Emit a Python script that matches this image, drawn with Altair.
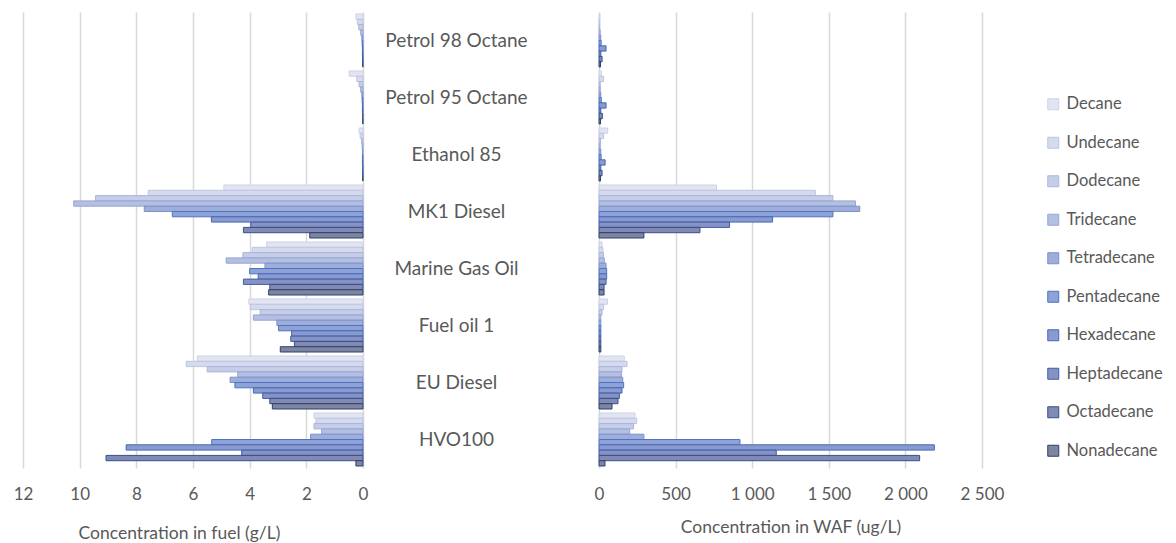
import altair as alt
import pandas as pd

fuels = ["Petrol 98 Octane", "Petrol 95 Octane", "Ethanol 85", "MK1 Diesel",
         "Marine Gas Oil", "Fuel oil 1", "EU Diesel", "HVO100"]
alkanes = ["Decane", "Undecane", "Dodecane", "Tridecane", "Tetradecane",
           "Pentadecane", "Hexadecane", "Heptadecane", "Octadecane", "Nonadecane"]

# Concentration in fuel (g/L), per fuel, Decane..Nonadecane
fuel_petrol98 = [0.25, 0.20, 0.15, 0.08, 0.04, 0.03, 0.02, 0.02, 0.01, 0.01]
fuel_petrol95 = [0.49, 0.22, 0.14, 0.08, 0.04, 0.03, 0.02, 0.02, 0.01, 0.01]
fuel_ethanol85 = [0.14, 0.10, 0.05, 0.03, 0.02, 0.02, 0.02, 0.01, 0.01, 0.01]
fuel_mk1 = [4.91, 7.58, 9.44, 10.21, 7.72, 6.73, 5.35, 3.96, 4.22, 1.88]
fuel_mgo = [3.40, 3.91, 4.24, 4.83, 3.46, 4.00, 3.70, 4.22, 3.29, 3.33]
fuel_fo1 = [4.03, 3.98, 3.63, 3.87, 3.04, 2.98, 2.52, 2.55, 2.42, 2.92]
fuel_eu = [5.85, 6.24, 5.50, 4.42, 4.69, 4.52, 3.87, 3.54, 3.29, 3.20]
fuel_hvo = [1.73, 1.66, 1.73, 1.46, 1.85, 5.34, 8.36, 4.28, 9.07, 0.25]

# Concentration in WAF (ug/L)
waf_petrol98 = [6, 5, 5, 8, 12, 14, 46, 12, 20, 10]
waf_petrol95 = [15, 30, 8, 8, 12, 15, 46, 12, 22, 10]
waf_ethanol85 = [57, 30, 10, 8, 12, 14, 40, 12, 20, 10]
waf_mk1 = [767, 1412, 1527, 1674, 1702, 1527, 1133, 852, 659, 293]
waf_mgo = [20, 25, 29, 35, 46, 50, 50, 46, 33, 33]
waf_fo1 = [55, 30, 20, 12, 12, 12, 12, 12, 12, 12]
waf_eu = [165, 183, 150, 146, 155, 161, 150, 133, 124, 85]
waf_hvo = [235, 246, 226, 200, 293, 920, 2189, 1157, 2093, 39]

fuel_vals = [fuel_petrol98, fuel_petrol95, fuel_ethanol85, fuel_mk1,
             fuel_mgo, fuel_fo1, fuel_eu, fuel_hvo]
waf_vals = [waf_petrol98, waf_petrol95, waf_ethanol85, waf_mk1,
            waf_mgo, waf_fo1, waf_eu, waf_hvo]

rows = []
for f, fv, wv in zip(fuels, fuel_vals, waf_vals):
    for a, x1, x2 in zip(alkanes, fv, wv):
        rows.append({"fuel": f, "alkane": a, "conc_fuel": x1, "conc_waf": x2})
df = pd.DataFrame(rows)

fills = ["#e2e5f1", "#d5daed", "#c6cde7", "#b4bfe1", "#9eaed9",
         "#8da2d6", "#8a9ad0", "#8792c3", "#8289b2", "#7f84a0"]
strokes = ["#ccd2e8", "#bcc5e2", "#aab6dc", "#95a6d5", "#7a91cc",
           "#4f73c3", "#4468b6", "#3d5ea6", "#34508f", "#2b4272"]

FONT = "Lato"
GREY = "#595959"

leg = alt.Legend(title=None, orient="none", legendX=1022, legendY=84,
                 symbolType="square", symbolSize=121, symbolStrokeWidth=1,
                 labelFontSize=16.5, labelColor=GREY, labelFont=FONT,
                 rowPadding=21.5, labelOffset=5, direction="vertical")

fill_enc = alt.Fill("alkane:N", sort=alkanes,
                    scale=alt.Scale(domain=alkanes, range=fills), legend=leg)
stroke_enc = alt.Stroke("alkane:N", sort=alkanes,
                        scale=alt.Scale(domain=alkanes, range=strokes), legend=leg)
yoff = alt.YOffset("alkane:N", sort=alkanes,
                   scale=alt.Scale(paddingInner=0, paddingOuter=0))
yscale = alt.Scale(paddingInner=0.07, paddingOuter=0.035)

left = alt.Chart(df).mark_bar(strokeWidth=1).encode(
    x=alt.X("conc_fuel:Q",
            scale=alt.Scale(domain=[0, 12], reverse=True, nice=False),
            axis=alt.Axis(values=[0, 2, 4, 6, 8, 10, 12], title="Concentration in fuel (g/L)",
                          grid=True, gridColor="#d9d9d9", gridWidth=1.5, domain=False,
                          ticks=False, tickSize=0, labelPadding=18, labelFontSize=17,
                          labelFlush=False,
                          labelColor=GREY, labelFont=FONT, titleFont=FONT,
                          titleFontSize=17.5, titleColor=GREY, titleFontWeight="normal",
                          titlePadding=22, titleX=156)),
    y=alt.Y("fuel:N", sort=fuels, scale=yscale, axis=None),
    yOffset=yoff,
    fill=fill_enc,
    stroke=stroke_enc,
).properties(width=340, height=456)

right = alt.Chart(df).mark_bar(strokeWidth=1).encode(
    x=alt.X("conc_waf:Q",
            scale=alt.Scale(domain=[0, 2500], nice=False),
            axis=alt.Axis(values=[0, 500, 1000, 1500, 2000, 2500],
                          labelExpr="replace(format(datum.value, ','), ',', ' ')",
                          title="Concentration in WAF (ug/L)",
                          grid=True, gridColor="#d9d9d9", gridWidth=1.5, domain=False,
                          ticks=False, tickSize=0, labelPadding=18, labelFontSize=17,
                          labelFlush=False,
                          labelColor=GREY, labelFont=FONT, titleFont=FONT,
                          titleFontSize=17.5, titleColor=GREY, titleFontWeight="normal",
                          titlePadding=16)),
    y=alt.Y("fuel:N", sort=fuels, scale=yscale,
            axis=alt.Axis(title=None, ticks=False, tickSize=0, domain=False,
                          labelAlign="center", labelPadding=143, labelFontSize=19,
                          labelColor=GREY, labelFont=FONT, grid=False)),
    yOffset=yoff,
    fill=fill_enc,
    stroke=stroke_enc,
).properties(width=383, height=456)

chart = alt.hconcat(left, right, spacing=236, bounds="flush").resolve_scale(
    y="independent"
).properties(
    padding={"left": 5, "top": 4, "right": 5, "bottom": 5},
    background="white",
).configure_view(stroke=None)

chart.save("out.html", embed_options={"renderer": "svg", "actions": False})
